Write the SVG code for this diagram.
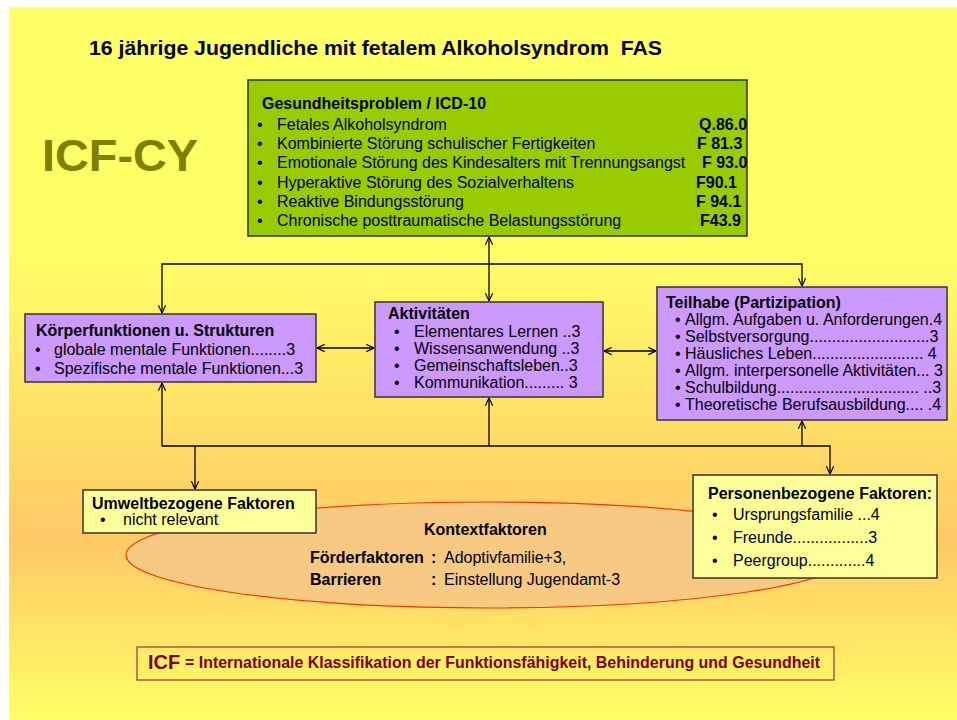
<svg xmlns="http://www.w3.org/2000/svg" width="957" height="720" viewBox="0 0 957 720">
<defs>
<linearGradient id="bg" x1="0" y1="7" x2="0" y2="720" gradientUnits="userSpaceOnUse">
<stop offset="0" stop-color="#FFFF66"/>
<stop offset="0.34" stop-color="#FFFF66"/>
<stop offset="0.75" stop-color="#FFC966"/>
<stop offset="1" stop-color="#FFFF66"/>
</linearGradient>
<marker id="ah" viewBox="0 0 10 10" refX="9.5" refY="5" markerWidth="9" markerHeight="9" markerUnits="userSpaceOnUse" orient="auto-start-reverse">
<path d="M1,1 L9.5,5 L1,9" fill="none" stroke="#000" stroke-width="1.3"/>
</marker>
<style>
text{font-family:"Liberation Sans",Arial,sans-serif;font-size:16px;fill:#000}
.b{font-weight:bold}
.box{stroke:#333;stroke-width:1.5}
.green{fill:#99CC00}
.purple{fill:#CC99FF}
.lyel{fill:#FFFF99}
.con{stroke:#000;stroke-width:1.3;fill:none}
</style>
</defs>
<rect x="0" y="0" width="957" height="720" fill="#FFFFFF"/>
<rect x="9" y="7" width="948" height="713" fill="url(#bg)"/>

<text class="b" x="89" y="55" xml:space="preserve" textLength="573" lengthAdjust="spacingAndGlyphs" style="font-size:21px">16 jährige Jugendliche mit fetalem Alkoholsyndrom  FAS</text>
<text class="b" x="42" y="171" style="font-size:44px;fill:#808000" textLength="156" lengthAdjust="spacingAndGlyphs">ICF-CY</text>

<g id="context">
<ellipse cx="488" cy="555" rx="362" ry="53" fill="#F7C983" stroke="#FF3300" stroke-width="1.2"/>
<text class="b" x="424" y="535">Kontextfaktoren</text>
<text class="b" x="310" y="563">Förderfaktoren</text>
<text class="b" x="431" y="563">:</text>
<text x="444" y="563">Adoptivfamilie+3,</text>
<text class="b" x="310" y="585">Barrieren</text>
<text class="b" x="431" y="585">:</text>
<text x="444" y="585">Einstellung Jugendamt-3</text>
</g>

<g id="connectors">
<line class="con" x1="489" y1="264" x2="489" y2="237" marker-end="url(#ah)"/>
<line class="con" x1="489" y1="264" x2="489" y2="301" marker-end="url(#ah)"/>
<polyline class="con" points="162,313 162,264 802,264 802,286" marker-start="url(#ah)" marker-end="url(#ah)"/>
<line class="con" x1="317" y1="348" x2="374" y2="348" marker-start="url(#ah)" marker-end="url(#ah)"/>
<line class="con" x1="604" y1="351" x2="656" y2="351" marker-start="url(#ah)" marker-end="url(#ah)"/>
<polyline class="con" points="162,383 162,446 830,446 830,474" marker-start="url(#ah)" marker-end="url(#ah)"/>
<line class="con" x1="489" y1="446" x2="489" y2="398" marker-end="url(#ah)"/>
<line class="con" x1="802" y1="446" x2="802" y2="421" marker-end="url(#ah)"/>
<line class="con" x1="195" y1="446" x2="195" y2="489" marker-end="url(#ah)"/>
</g>

<g id="gesundheitsproblem">
<rect class="box green" x="248" y="80" width="499" height="156"/>
<text class="b" x="262" y="109">Gesundheitsproblem / ICD-10</text>
<text x="257" y="130">•</text><text x="277" y="130">Fetales Alkoholsyndrom</text><text class="b" x="699" y="130">Q.86.0</text>
<text x="257" y="149">•</text><text x="277" y="149">Kombinierte Störung schulischer Fertigkeiten</text><text class="b" x="697" y="149">F 81.3</text>
<text x="257" y="168">•</text><text x="277" y="168">Emotionale Störung des Kindesalters mit Trennungsangst</text><text class="b" x="702" y="168">F 93.0</text>
<text x="257" y="187.5">•</text><text x="277" y="187.5">Hyperaktive Störung des Sozialverhaltens</text><text class="b" x="696" y="187.5">F90.1</text>
<text x="257" y="206.5">•</text><text x="277" y="206.5">Reaktive Bindungsstörung</text><text class="b" x="696" y="206.5">F 94.1</text>
<text x="257" y="225.5">•</text><text x="277" y="225.5">Chronische posttraumatische Belastungsstörung</text><text class="b" x="700" y="225.5">F43.9</text>
</g>

<g id="koerperfunktionen">
<rect class="box purple" x="25" y="314" width="291" height="68"/>
<text class="b" x="36" y="335.5">Körperfunktionen u. Strukturen</text>
<text x="35" y="355">•</text><text x="54" y="355">globale mentale Funktionen........3</text>
<text x="35" y="373.5">•</text><text x="54" y="373.5">Spezifische mentale Funktionen...3</text>
</g>

<g id="aktivitaeten">
<rect class="box purple" x="375" y="302" width="228" height="95"/>
<text class="b" x="388" y="319">Aktivitäten</text>
<text x="394" y="337">•</text><text x="414" y="337">Elementares Lernen ..3</text>
<text x="394" y="354">•</text><text x="414" y="354">Wissensanwendung ..3</text>
<text x="394" y="371">•</text><text x="414" y="371">Gemeinschaftsleben..3</text>
<text x="394" y="388">•</text><text x="414" y="388">Kommunikation......... 3</text>
</g>

<g id="teilhabe">
<rect class="box purple" x="657" y="287" width="290" height="133"/>
<text class="b" x="666" y="307.5">Teilhabe (Partizipation)</text>
<text x="675" y="324.5">•</text><text x="685" y="324.5">Allgm. Aufgaben u. Anforderungen.4</text>
<text x="675" y="341.5">•</text><text x="685" y="341.5">Selbstversorgung...........................3</text>
<text x="675" y="358.5">•</text><text x="685" y="358.5">Häusliches Leben......................... 4</text>
<text x="675" y="375.5">•</text><text x="685" y="375.5">Allgm. interpersonelle Aktivitäten... 3</text>
<text x="675" y="392.5">•</text><text x="685" y="392.5">Schulbildung................................ ..3</text>
<text x="675" y="410">•</text><text x="685" y="410">Theoretische Berufsausbildung.... .4</text>
</g>

<g id="umweltfaktoren">
<rect class="box lyel" x="83" y="490" width="233" height="43"/>
<text class="b" x="92" y="508.5">Umweltbezogene Faktoren</text>
<text x="100" y="524.5">•</text><text x="123" y="524.5">nicht relevant</text>
</g>

<g id="personenfaktoren">
<rect class="box lyel" x="693" y="475" width="244" height="103"/>
<text class="b" x="708" y="498.5">Personenbezogene Faktoren:</text>
<text x="712" y="520">•</text><text x="733" y="520">Ursprungsfamilie ...4</text>
<text x="712" y="543">•</text><text x="733" y="543">Freunde.................3</text>
<text x="712" y="566">•</text><text x="733" y="566">Peergroup.............4</text>
</g>

<g id="legende">
<rect x="137" y="647" width="697" height="33" fill="none" stroke="#A04040" stroke-width="1.3"/>
<text class="b" x="148" y="669" style="font-size:20px;fill:#800000">ICF</text>
<text class="b" x="185" y="668" style="font-size:16px;fill:#800000" textLength="635" lengthAdjust="spacingAndGlyphs">= Internationale Klassifikation der Funktionsfähigkeit, Behinderung und Gesundheit</text>
</g>
</svg>
